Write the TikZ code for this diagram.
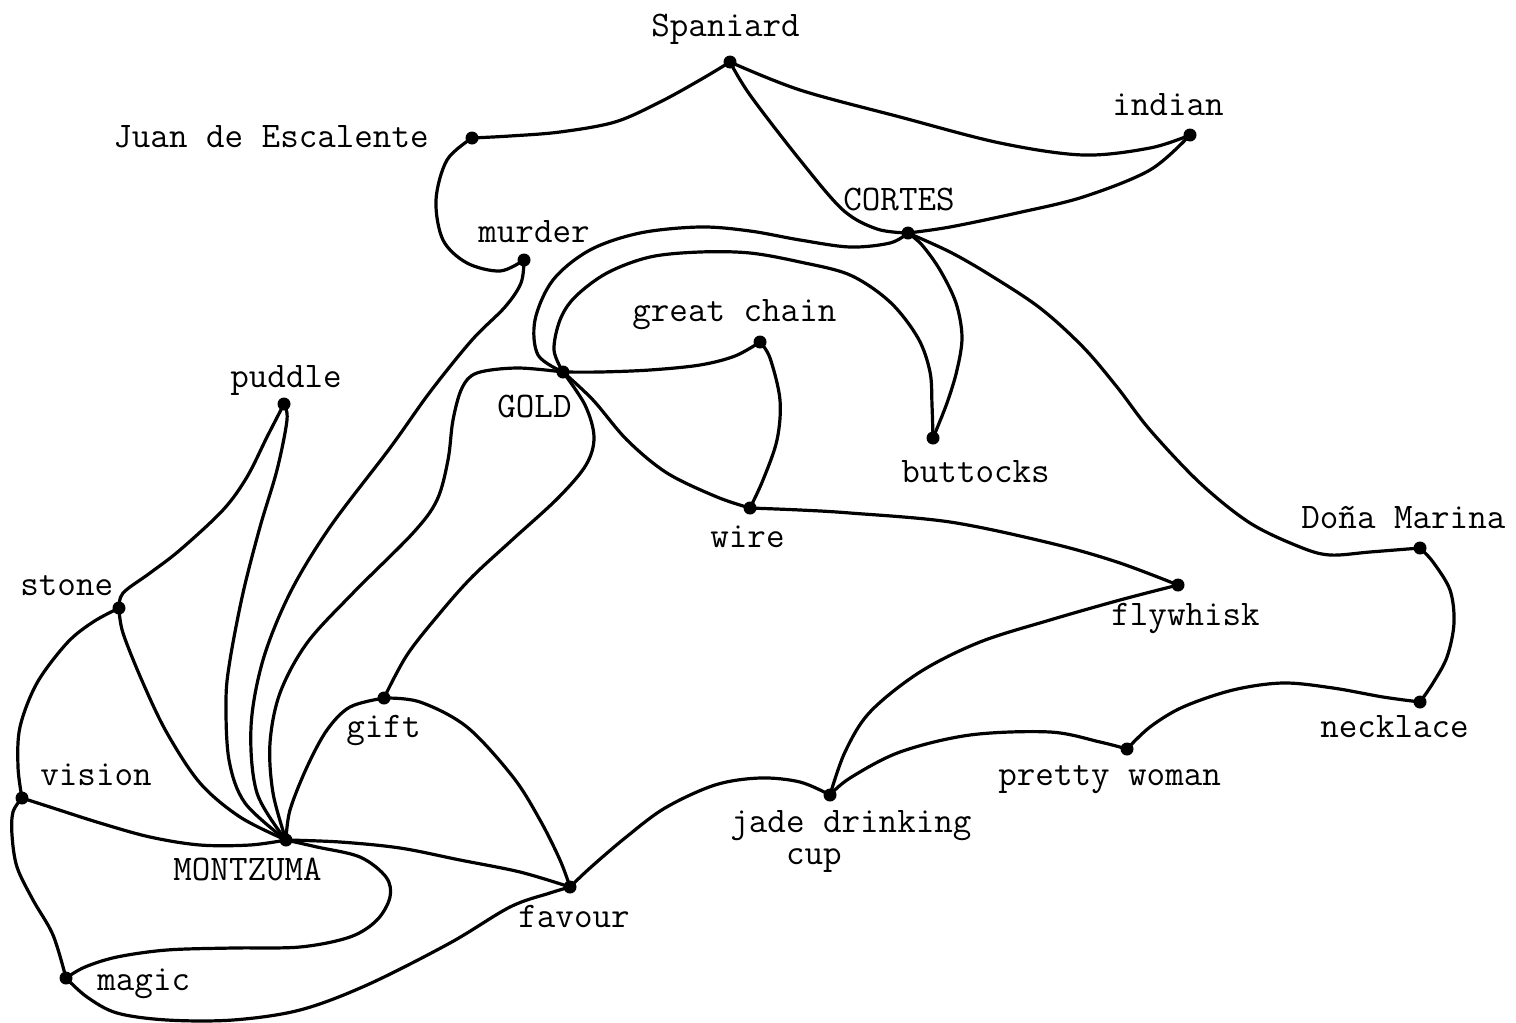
\documentclass[tikz,border=0pt]{standalone}
\usepackage{fontspec}
\newfontfamily\tw{Latin Modern Mono}
\begin{document}
\begin{tikzpicture}[x=0.5pt,y=-0.5pt,
  dot/.style={circle,fill=black,inner sep=0pt,minimum size=6.5pt},
  lbl/.style={font=\tw\fontsize{18pt}{16pt}\selectfont,inner sep=0pt,anchor=base west,align=left},
  ln/.style={line width=1.6pt,line cap=round,line join=round},
  sm/.style={smooth,tension=0.55}]
\useasboundingbox (0,0) rectangle (1516,1023);
% dots
\node[dot] (spa) at (730,62) {};
\node[dot] (juan) at (472,138) {};
\node[dot] (ind) at (1190,135) {};
\node[dot] (cor) at (908,233) {};
\node[dot] (mur) at (524,260) {};
\node[dot] (chain) at (760,342) {};
\node[dot] (gold) at (563,372) {};
\node[dot] (pud) at (284,404) {};
\node[dot] (butt) at (933,438) {};
\node[dot] (wire) at (750,508) {};
\node[dot] (dona) at (1420,548) {};
\node[dot] (fly) at (1178,585) {};
\node[dot] (stone) at (119,608) {};
\node[dot] (gift) at (384,698) {};
\node[dot] (neck) at (1420,702) {};
\node[dot] (pretty) at (1127,749) {};
\node[dot] (vision) at (22,798) {};
\node[dot] (jade) at (830,795) {};
\node[dot] (mon) at (286,840) {};
\node[dot] (fav) at (570,887) {};
\node[dot] (magic) at (66,978) {};
% labels
\node[lbl] (lspa) at (651,36) {Spaniard};
\node[lbl] (ljuan) at (113,147) {Juan de Escalente};
\node[lbl] (lind) at (1112,115) {indian};
\node[lbl] (lcor) at (843,210) {CORTES};
\node[lbl] (lmur) at (478,242) {murder};
\node[lbl] (lchain) at (632,321) {great chain};
\node[lbl] (lgold) at (497,417) {GOLD};
\node[lbl] (lpud) at (230,387) {puddle};
\node[lbl] (lbutt) at (901,482) {buttocks};
\node[lbl] (lwire) at (710,547) {wire};
\node[lbl] (ldona) at (1301,528) {Doña Marina};
\node[lbl] (lfly) at (1111,625) {flywhisk};
\node[lbl] (lstone) at (20,595) {stone};
\node[lbl] (lgift) at (346,737) {gift};
\node[lbl] (lneck) at (1320,737) {necklace};
\node[lbl] (lpretty) at (998,785) {pretty woman};
\node[lbl] (lvision) at (40,785) {vision};
\node[lbl] (ljade) at (730,864) {jade drinking\\\phantom{jad}cup};
\node[lbl] (lmon) at (173,880) {MONTZUMA};
\node[lbl] (lfav) at (518,927) {favour};
\node[lbl] (lmagic) at (97,990) {magic};
% connectors
\draw[ln] plot[sm] coordinates {(spa.center) (700,80) (660,102) (615,122) (560,132) (510,136) (juan.center)};
\draw[ln] plot[sm] coordinates {(spa.center) (800,90) (900,117) (1000,143) (1083,155) (1150,148) (ind.center)};
\draw[ln] plot[sm] coordinates {(spa.center) (750,95) (800,160) (843,210) (877,229) (cor.center)};
\draw[ln] plot[sm] coordinates {(ind.center) (1150,170) (1083,197) (1017,213) (950,227) (cor.center)};
\draw[ln] plot[sm] coordinates {(juan.center) (447,160) (436,200) (443,240) (467,263) (500,271) (mur.center)};
\draw[ln] plot[sm] coordinates {(mur.center) (521,283) (505,307) (472,340) (430,392) (390,448) (330,527) (290,593) (263,660) (251,727) (257,793) (mon.center)};
\draw[ln] plot[sm] coordinates {(cor.center) (890,243) (850,247) (800,240) (750,231) (700,227) (640,233) (590,250) (553,280) (535,320) (538,355) (gold.center)};
\draw[ln] plot[sm] coordinates {(gold.center) (554,350) (560,320) (575,297) (607,273) (650,257) (700,252) (750,253) (800,262) (850,275) (890,302) (918,338) (930,372) (932,405) (butt.center)};
\draw[ln] plot[sm] coordinates {(cor.center) (922,245) (940,270) (956,303) (962,337) (957,370) (947,403) (butt.center)};
\draw[ln] plot[sm] coordinates {(gold.center) (600,372) (650,370) (700,365) (735,356) (chain.center)};
\draw[ln] plot[sm] coordinates {(chain.center) (770,358) (780,400) (777,440) (763,480) (wire.center)};
\draw[ln] plot[sm] coordinates {(gold.center) (593,400) (627,440) (667,473) (717,497) (wire.center)};
\draw[ln] plot[sm] coordinates {(gold.center) (585,405) (594,437) (586,465) (558,498) (512,540) (472,577) (440,613) (407,655) (gift.center)};
\draw[ln] plot[sm] coordinates {(gold.center) (517,368) (477,373) (462,388) (453,420) (448,460) (437,500) (413,533) (353,593) (307,643) (280,693) (270,743) (273,793) (mon.center)};
\draw[ln] plot[sm] coordinates {(wire.center) (800,510) (850,513) (950,522) (1050,543) (1117,562) (fly.center)};
\draw[ln] plot[sm] coordinates {(fly.center) (1120,600) (1050,620) (980,642) (920,672) (870,712) (845,752) (jade.center)};
\draw[ln] plot[sm] coordinates {(jade.center) (850,778) (900,752) (970,735) (1050,732) (1100,742) (pretty.center)};
\draw[ln] plot[sm] coordinates {(pretty.center) (1150,727) (1183,707) (1233,690) (1283,683) (1333,688) (1383,697) (neck.center)};
\draw[ln] plot[sm] coordinates {(neck.center) (1433,683) (1447,657) (1454,623) (1450,590) (1433,562) (dona.center)};
\draw[ln] plot[sm] coordinates {(dona.center) (1370,552) (1330,555) (1300,547) (1250,523) (1200,483) (1150,430) (1117,387) (1083,347) (1040,308) (990,275) (950,252) (cor.center)};
\draw[ln] plot[sm] coordinates {(jade.center) (800,782) (760,778) (715,785) (665,808) (625,838) (590,868) (fav.center)};
\draw[ln] plot[sm] coordinates {(gift.center) (420,702) (467,727) (513,777) (540,820) (560,860) (fav.center)};
\draw[ln] plot[sm] coordinates {(mon.center) (340,842) (400,848) (460,860) (520,872) (fav.center)};
\draw[ln] plot[sm] coordinates {(magic.center) (87,997) (117,1013) (167,1020) (233,1020) (300,1010) (367,985) (450,943) (510,907) (550,893) (fav.center)};
\draw[ln] plot[sm] coordinates {(mon.center) (317,847) (360,857) (386,877) (390,897) (377,920) (350,937) (300,947) (233,948) (167,950) (117,957) (85,967) (magic.center)};
\draw[ln] plot[sm] coordinates {(vision.center) (50,807) (100,823) (150,837) (200,845) (250,845) (mon.center)};
\draw[ln] plot[sm] coordinates {(vision.center) (13,812) (12,835) (17,867) (33,900) (53,935) (magic.center)};
\draw[ln] plot[sm] coordinates {(stone.center) (93,622) (67,643) (37,683) (20,727) (18,767) (vision.center)};
\draw[ln] plot[sm] coordinates {(stone.center) (123,633) (143,683) (167,733) (200,783) (240,817) (mon.center)};
\draw[ln] plot[sm] coordinates {(stone.center) (123,593) (150,573) (180,550) (223,510) (247,477) (267,437) (pud.center)};
\draw[ln] plot[sm] coordinates {(pud.center) (287,420) (277,470) (260,527) (243,593) (230,660) (226,700) (229,760) (245,803) (mon.center)};
\draw[ln] plot[sm] coordinates {(gift.center) (350,707) (327,730) (307,767) (290,810) (mon.center)};
\end{tikzpicture}
\end{document}
